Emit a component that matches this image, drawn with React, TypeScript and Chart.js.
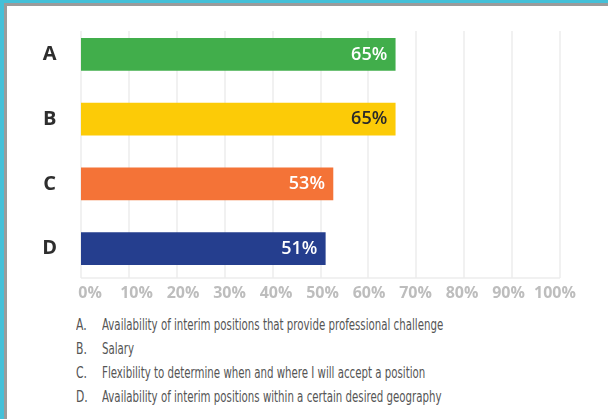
import React, { useEffect, useRef } from "react";
import { Chart, registerables } from "chart.js";

Chart.register(...registerables);

const categories = ["A", "B", "C", "D"];
const values = [65.6, 65.6, 52.6, 51];
const valueLabels = ["65%", "65%", "53%", "51%"];
const barColors = ["#41ae4b", "#fccb07", "#f47337", "#253e8e"];
const labelColors = ["#ffffff", "#2a2a2a", "#ffffff", "#ffffff"];
const xMin = 0;
const xMax = 100;
const xStep = 10;
const xTickValues = [0, 10, 20, 30, 40, 50, 60, 70, 80, 90, 100];
const labelAxisMin = -1.94;
const labelAxisMax = 101.08;
const legendLetters = ["A.", "B.", "C.", "D."];
const legendTexts = [
  "Availability of interim positions that provide professional challenge",
  "Salary",
  "Flexibility to determine when and where I will accept a position",
  "Availability of interim positions within a certain desired geography",
];

const gridPlugin = {
  id: "customGrid",
  beforeDatasetsDraw(chart: any) {
    const { ctx, chartArea, scales } = chart;
    const x = scales.x;
    const top = chartArea.top + 9;
    const bottom = chartArea.bottom - 3;
    ctx.save();
    ctx.strokeStyle = "#ececec";
    ctx.lineWidth = 1.5;
    xTickValues.forEach((v) => {
      const px = Math.round(x.getPixelForValue(v));
      ctx.beginPath();
      ctx.moveTo(px, top);
      ctx.lineTo(px, bottom);
      ctx.stroke();
    });
    ctx.beginPath();
    ctx.moveTo(x.getPixelForValue(xMin), bottom);
    ctx.lineTo(x.getPixelForValue(xMax), bottom);
    ctx.stroke();
    ctx.restore();
  },
};

const valueLabelPlugin = {
  id: "valueLabels",
  afterDatasetsDraw(chart: any) {
    const { ctx } = chart;
    const meta = chart.getDatasetMeta(0);
    ctx.save();
    ctx.font = "600 18px 'Open Sans'";
    ctx.textAlign = "right";
    ctx.textBaseline = "middle";
    meta.data.forEach((bar: any, i: number) => {
      ctx.fillStyle = labelColors[i];
      ctx.fillText(valueLabels[i], bar.x - 8, bar.y);
    });
    ctx.restore();
  },
};

export default function App() {
  const ref = useRef<HTMLCanvasElement | null>(null);

  useEffect(() => {
    if (!ref.current) return;
    const chart = new Chart(ref.current, {
      type: "bar",
      data: {
        labels: categories,
        datasets: [
          {
            data: values,
            backgroundColor: barColors,
            barThickness: 32,
            borderWidth: 0,
            xAxisID: "x",
          },
        ],
      },
      options: {
        indexAxis: "y",
        animation: false,
        responsive: false,
        devicePixelRatio: 1,
        layout: { padding: { top: 22, right: 48, left: 0, bottom: 0 } },
        plugins: {
          legend: { display: false },
          tooltip: { enabled: false },
        },
        scales: {
          x: {
            position: "bottom",
            min: xMin,
            max: xMax,
            grid: { display: false, drawTicks: false },
            border: { display: false },
            ticks: { display: false, stepSize: xStep },
            afterFit: (s: any) => {
              s.height = 0;
            },
          },
          x2: {
            type: "linear",
            position: "bottom",
            min: labelAxisMin,
            max: labelAxisMax,
            grid: { display: false, drawTicks: false },
            border: { display: false },
            afterBuildTicks: (s: any) => {
              s.ticks = xTickValues.map((v) => ({ value: v }));
            },
            ticks: {
              padding: 3,
              color: "#bdbdbd",
              autoSkip: false,
              maxRotation: 0,
              font: { family: "'Open Sans'", size: 16, weight: "bold" },
              callback: (v: any) => v + "%",
            },
            afterFit: (s: any) => {
              s.height = 29;
            },
          },
          y: {
            grid: { display: false, drawTicks: false },
            border: { display: false },
            ticks: {
              padding: 24,
              crossAlign: "center",
              color: "#2e2e2e",
              font: { family: "'Open Sans'", size: 20, weight: "bold" },
            },
            afterFit: (s: any) => {
              s.width = 81;
              s.paddingTop = 0;
              s.paddingBottom = 0;
            },
          },
        },
      },
      plugins: [gridPlugin, valueLabelPlugin],
    });
    return () => chart.destroy();
  }, []);

  const legendTops = [325, 349, 373, 397];

  return (
    <div
      style={{
        position: "absolute",
        left: 0,
        top: 0,
        width: 608,
        height: 419,
        background: "#ffffff",
        overflow: "hidden",
      }}
    >
      <div style={{ position: "absolute", left: 0, top: 0, width: 608, height: 3, background: "#44c0d8" }} />
      <div style={{ position: "absolute", left: 0, top: 0, width: 4, height: 419, background: "#44c0d8" }} />
      <div style={{ position: "absolute", left: 4, top: 3, width: 604, height: 3, background: "#9b9b9b" }} />
      <div style={{ position: "absolute", left: 4, top: 3, width: 3, height: 416, background: "#9b9b9b" }} />
      <canvas
        ref={ref}
        width={608}
        height={310}
        style={{ position: "absolute", left: 0, top: 0, width: 608, height: 310 }}
      />
      {legendTexts.map((t, i) => (
        <div
          key={i}
          style={{
            position: "absolute",
            left: 0,
            top: legendTops[i] - 10,
            height: 20,
            lineHeight: "20px",
            fontFamily: "'Liberation Sans Narrow', 'DejaVu Sans Condensed', sans-serif",
            fontSize: 16,
            color: "#555555",
            whiteSpace: "nowrap",
          }}
        >
          <span
            style={{
              position: "absolute",
              left: 76,
              top: 0,
              transform: "scaleX(0.75)",
              transformOrigin: "left center",
            }}
          >
            {legendLetters[i]}
          </span>
          <span
            style={{
              position: "absolute",
              left: 102,
              top: 0,
              transform: "scaleX(0.71)",
              transformOrigin: "left center",
            }}
          >
            {t}
          </span>
        </div>
      ))}
    </div>
  );
}
